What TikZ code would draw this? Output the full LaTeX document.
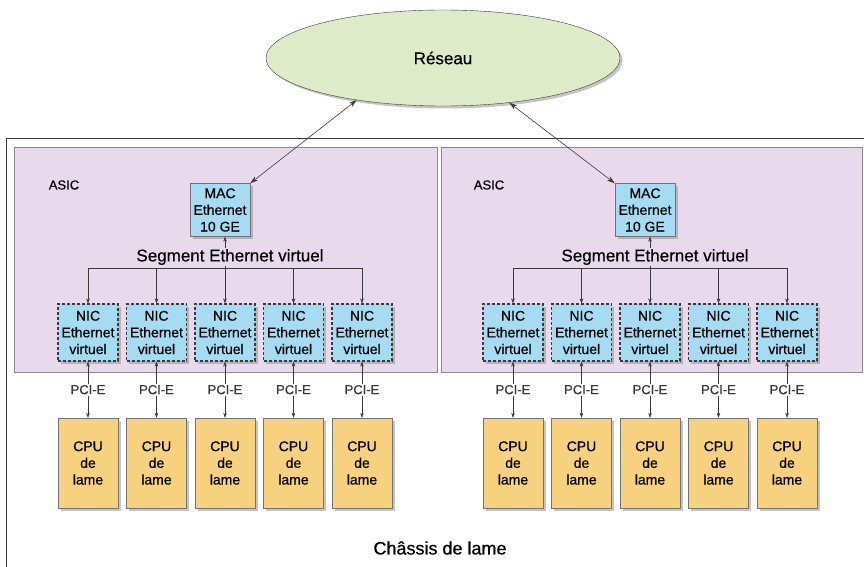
\documentclass[tikz,border=0pt]{standalone}
\usepackage{fontspec}
\setmainfont{Liberation Sans}[FakeBold=0.6]
\usetikzlibrary{shapes.geometric,arrows.meta,shadows}
\definecolor{reseau}{HTML}{DDEBC9}
\definecolor{asic}{HTML}{E8DAEC}
\definecolor{nicbleu}{HTML}{A6DCF2}
\definecolor{cpujaune}{HTML}{F6D17E}
\definecolor{trait}{HTML}{3A3A3A}

\begin{document}
\begin{tikzpicture}[x=1pt,y=-1pt,
    every node/.style={font=\fontsize{14}{16.7}\selectfont, align=center, inner sep=0pt},
    ombre/.style={drop shadow={shadow xshift=2.5pt,shadow yshift=-2.5pt,fill=black!45,opacity=.5}},
    asicbox/.style={draw=black!45, fill=asic, anchor=north west, minimum height=225pt},
    macbox/.style={draw=black!55, fill=nicbleu, minimum width=60pt, minimum height=53pt, ombre},
    nicbox/.style={draw=trait, line width=1.1pt, dash pattern=on 3pt off 2pt, fill=nicbleu, minimum width=60pt, minimum height=57pt, ombre},
    cpubox/.style={draw=black!55, fill=cpujaune, minimum width=60pt, minimum height=90pt, ombre},
    fleche/.style={{Stealth[length=5pt,width=3.5pt]}-{Stealth[length=5pt,width=3.5pt]}, trait},
    grandefleche/.style={{Stealth[length=8pt,width=5pt]}-{Stealth[length=8pt,width=5pt]}, trait, semithick},
    descente/.style={-{Stealth[length=5pt,width=3.5pt]}, trait}]
  \useasboundingbox (0,0) rectangle (864,567);
  \fill[white] (0,0) rectangle (864,567);

  % chassis
  \draw[trait, thick] (6.5,138) rectangle (900,600);
  \node[font=\fontsize{18}{20}\selectfont] (chassis) at (440,548) {Châssis de lame};

  \node[ellipse, draw=trait, fill=reseau, minimum width=354pt, minimum height=96pt, ombre,
        font=\fontsize{17}{20}\selectfont] (reseau) at (443,58) {Réseau};

  \node[asicbox, minimum width=423pt] (asica) at (14,147) {};
  \node[asicbox, minimum width=421pt] (asicb) at (441,147) {};

  \foreach \c/\dx/\ang in {a/0/206, b/425/326}{
    \node[font=\fontsize{13}{15}\selectfont] (label\c) at (64+\dx,185) {ASIC};
    \node[macbox] (mac\c) at (220+\dx,210) {MAC\\Ethernet\\10 GE};
    \coordinate (bus\c) at (0,268);
    \foreach \i in {1,...,5}{
      \node[nicbox] (nic\c\i) at (88+68.5*\i-68.5+\dx,332.5) {NIC\\Ethernet\\virtuel};
      \node[cpubox] (cpu\c\i) at (88+68.5*\i-68.5+\dx,463) {CPU\\de\\lame};
      \draw[fleche] (nic\c\i.south) -- (cpu\c\i.north)
        node[midway, fill=white, inner sep=1.5pt, font=\fontsize{13}{15}\selectfont] {PCI-E};
    }
    \draw[trait] (nic\c1.north |- bus\c) -- (nic\c5.north |- bus\c);
    \foreach \i in {1,2,4,5}{
      \draw[descente] (nic\c\i.north |- bus\c) -- (nic\c\i.north);
    }
    \draw[fleche] (nic\c3.north) -- (nic\c3.north |- mac\c.south);
    \node[fill=asic, inner sep=1pt, font=\fontsize{17}{20}\selectfont] (segment\c) at (230+\dx,257) {Segment Ethernet virtuel};
  }

  \draw[grandefleche] (reseau.206) -- (maca.north east);
  \draw[grandefleche] (reseau.326) -- (macb.north west);
\end{tikzpicture}
\end{document}
